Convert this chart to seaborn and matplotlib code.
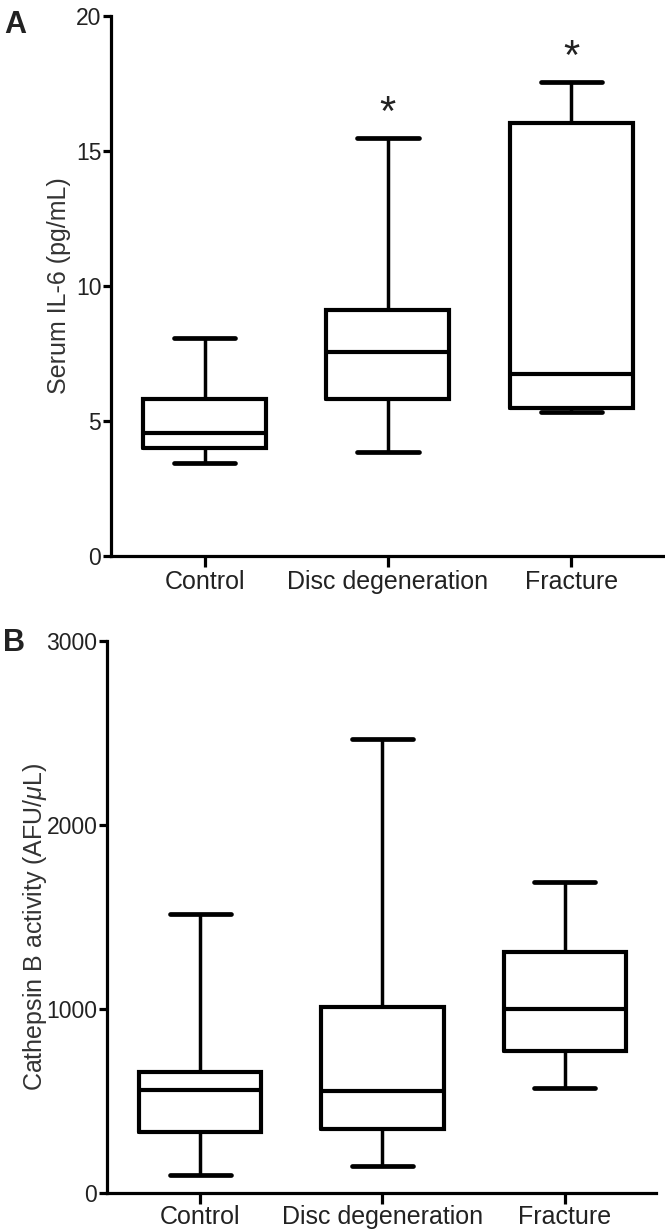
import numpy as np
import pandas as pd
import matplotlib
matplotlib.use("Agg")
import matplotlib.pyplot as plt
import seaborn as sns

# groups on the x axis
groups = ["Control", "Disc degeneration", "Fracture"]

# five-number summaries: min, Q1, median, Q3, max
il6_control = [3.46, 3.99, 4.57, 5.80, 8.08]
il6_disc = [3.86, 5.81, 7.54, 9.11, 15.49]
il6_fracture = [5.34, 5.47, 6.74, 16.05, 17.54]

catb_control = [98, 330, 560, 656, 1516]
catb_disc = [148, 349, 554, 1009, 2467]
catb_fracture = [573, 772, 1000, 1308, 1692]

# significance marks above the IL-6 boxes
il6_marks = ["", "*", "*"]


def long_df(vals, col):
    rows = []
    for g, v in zip(groups, vals):
        for x in v:
            rows.append({"group": g, col: x})
    return pd.DataFrame(rows)


df_il6 = long_df([il6_control, il6_disc, il6_fracture], "il6")
df_catb = long_df([catb_control, catb_disc, catb_fracture], "catb")

sns.set_style("ticks")
plt.rcParams["font.family"] = ["Liberation Sans", "DejaVu Sans"]
plt.rcParams["mathtext.fontset"] = "custom"
plt.rcParams["mathtext.it"] = "Liberation Sans:italic"
plt.rcParams["mathtext.rm"] = "Liberation Sans"

fig = plt.figure(figsize=(6.65, 12.3), dpi=100)
axA = fig.add_axes([0.1669, 0.548, 0.830, 0.439])
axB = fig.add_axes([0.161, 0.0301, 0.8256, 0.4488])

box_kw = dict(
    fill=False, color="black", width=0.67, whis=(0, 100), linewidth=3,
    boxprops=dict(linewidth=3.0, solid_joinstyle="miter"),
    whiskerprops=dict(linewidth=2.5),
    capprops=dict(linewidth=3.4, solid_capstyle="round"),
    medianprops=dict(linewidth=3.0, color="black"),
)

sns.boxplot(data=df_il6, x="group", y="il6", order=groups, ax=axA, **box_kw)
sns.boxplot(data=df_catb, x="group", y="catb", order=groups, ax=axB, **box_kw)

# asterisks above the whisker caps
maxes = [max(v) for v in [il6_control, il6_disc, il6_fracture]]
for i, (m, mk) in enumerate(zip(maxes, il6_marks)):
    if mk:
        axA.text(i, m + 0.48, mk, ha="center", va="baseline", fontsize=30,
                 color="#222222")

for ax, top, step in [(axA, 20, 5), (axB, 3000, 1000)]:
    ax.set_ylim(0, top)
    ax.set_yticks(np.arange(0, top + 1, step))
    ax.set_xlim(-0.51, 2.5)
    sns.despine(ax=ax)
    for s in ["left", "bottom"]:
        ax.spines[s].set_linewidth(2.3)
        ax.spines[s].set_color("black")
    ax.tick_params(axis="y", length=6, width=2.3, pad=1, labelsize=16.5,
                   labelcolor="#222222", color="black")
    ax.tick_params(axis="x", length=8, width=2.3, pad=2, labelsize=18,
                   labelcolor="#222222", color="black")
    ax.set_xlabel("")

axB.tick_params(axis="x", pad=0.5)

axA.set_ylabel("Serum IL-6 (pg/mL)", fontsize=18, color="#333333")
axA.yaxis.set_label_coords(-0.072, 0.5)
axB.set_ylabel(r"Cathepsin B activity (AFU/$\mathit{\mu}$L)", fontsize=18,
               color="#333333")
axB.yaxis.set_label_coords(-0.106, 0.482)

fig.text(0.006, 1 - 10 / 1230, "A", ha="left", va="top", fontsize=22,
         fontweight="bold", color="#222222",
         family=["Liberation Sans Narrow", "Liberation Sans", "DejaVu Sans"])
fig.text(0.004, 1 - 628 / 1230, "B", ha="left", va="top", fontsize=22,
         fontweight="bold", color="#222222",
         family=["Liberation Sans Narrow", "Liberation Sans", "DejaVu Sans"])

fig.savefig("out.png", dpi=100)
